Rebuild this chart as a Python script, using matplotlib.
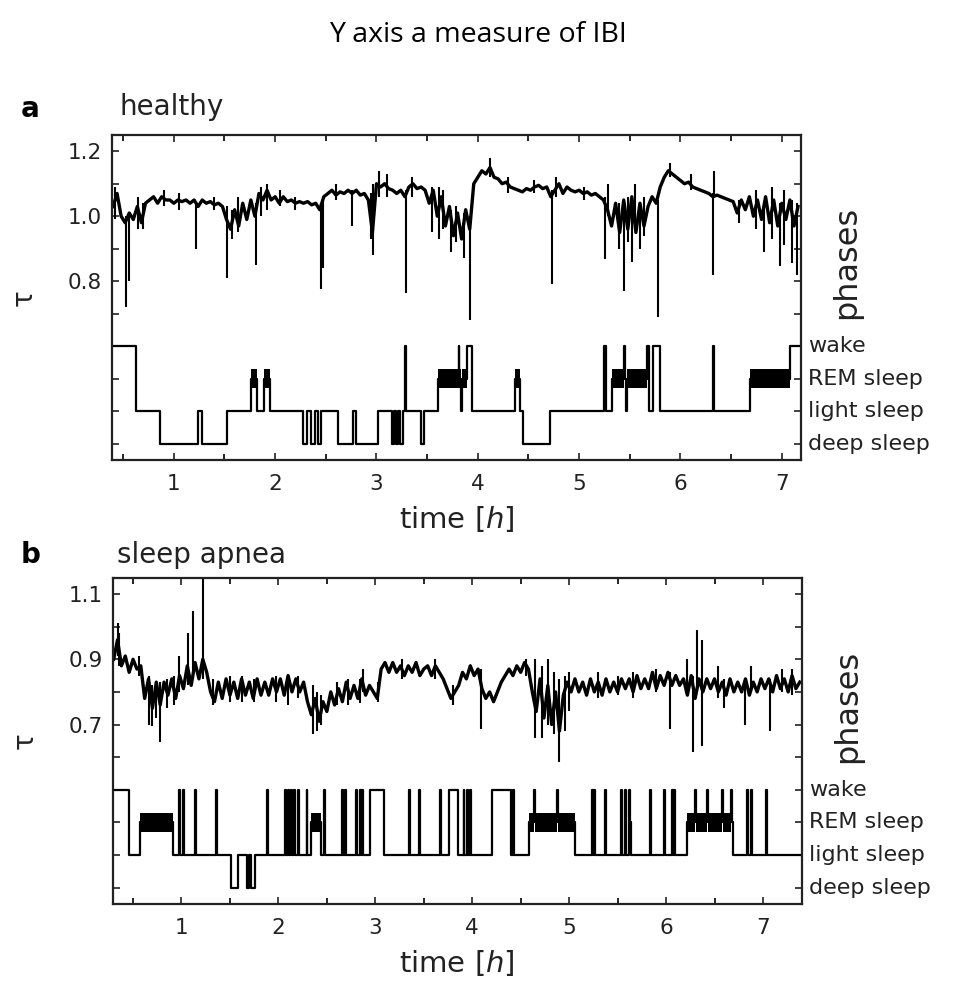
import numpy as np
import matplotlib
matplotlib.use("Agg")
import matplotlib.pyplot as plt

plt.rcParams['font.family'] = ['DejaVu Sans']
plt.rcParams['mathtext.fontset'] = 'dejavusans'

# ---- panel a: healthy ----
t0_a, dt_a = 0.40, 0.04
tau_a = [1.03, 1.07, 1.00, 0.98, 1.01, 0.99, 1.03, 0.98, 1.04, 1.05,
         1.06, 1.04, 1.06, 1.05, 1.05, 1.04, 1.05, 1.045, 1.05, 1.04,
         1.05, 1.03, 1.05, 1.04, 1.045, 1.035, 1.04, 1.03, 0.99, 0.96,
         1.02, 0.97, 1.04, 0.99, 1.05, 1.00, 1.07, 1.05, 1.08, 1.05,
         1.06, 1.04, 1.06, 1.045, 1.05, 1.04, 1.045, 1.04, 1.045, 1.035,
         1.04, 1.02, 1.06, 1.07, 1.08, 1.065, 1.075, 1.07, 1.08, 1.07,
         1.08, 1.065, 1.07, 1.05, 0.95, 1.10, 1.09, 1.10, 1.085, 1.08,
         1.07, 1.08, 1.06, 1.09, 1.10, 1.085, 1.09, 1.08, 1.04, 1.08,
         1.00, 1.06, 0.97, 1.03, 0.94, 1.01, 0.93, 1.02, 0.96, 1.10,
         1.12, 1.14, 1.13, 1.15, 1.12, 1.115, 1.10, 1.105, 1.09, 1.085,
         1.08, 1.075, 1.085, 1.08, 1.09, 1.095, 1.085, 1.09, 1.06, 1.08,
         1.10, 1.07, 1.09, 1.08, 1.075, 1.08, 1.07, 1.075, 1.065, 1.07,
         1.06, 1.05, 1.02, 0.97, 1.04, 0.95, 1.05, 0.96, 1.06, 0.95,
         1.04, 0.97, 1.03, 1.06, 1.04, 1.09, 1.12, 1.14, 1.13, 1.12,
         1.11, 1.10, 1.105, 1.09, 1.085, 1.08, 1.075, 1.07, 1.06, 1.065,
         1.06, 1.055, 1.05, 1.045, 1.01, 1.05, 1.02, 1.06, 1.00, 1.05,
         0.99, 1.06, 0.98, 1.05, 0.97, 1.04, 0.99, 1.05, 0.97, 1.03]

# short beats: time, low, high
spike_t_a = [0.42, 0.53, 0.56, 0.65, 0.70, 0.90, 1.05, 1.22, 1.40, 1.52,
             1.57, 1.63, 1.81, 1.86, 1.92, 2.05, 2.20, 2.45, 2.47, 2.60,
             2.76, 2.95, 2.97, 3.02, 3.10, 3.29, 3.35, 3.55, 3.62, 3.66,
             3.74, 3.78, 3.86, 3.92, 4.12, 4.30, 4.55, 4.73, 4.77, 5.05,
             5.26, 5.28, 5.39, 5.44, 5.48, 5.52, 5.55, 5.60, 5.64, 5.78,
             5.90, 6.10, 6.32, 6.33, 6.58, 6.75, 6.82, 6.90, 6.98, 7.02,
             7.10, 7.15]
spike_lo_a = [0.99, 0.72, 0.80, 0.96, 0.96, 1.03, 1.02, 0.90, 1.02, 0.81,
              0.93, 0.95, 0.85, 1.00, 1.02, 1.03, 1.02, 0.775, 0.84, 1.05,
              0.97, 0.93, 0.88, 1.06, 1.06, 0.765, 1.06, 0.95, 0.93, 0.96,
              0.89, 0.92, 0.87, 0.68, 1.12, 1.07, 1.07, 0.79, 1.06, 1.05,
              0.867, 1.00, 0.90, 0.77, 0.92, 0.86, 0.98, 0.90, 0.94, 0.69,
              1.12, 1.08, 0.82, 1.06, 0.98, 0.96, 0.89, 0.93, 0.846, 0.91,
              0.856, 0.82]
spike_hi_a = [1.09, 1.00, 1.00, 1.06, 1.04, 1.08, 1.07, 1.04, 1.06, 1.03,
              1.02, 1.06, 1.04, 1.09, 1.10, 1.08, 1.06, 1.04, 1.05, 1.10,
              1.08, 1.07, 1.10, 1.14, 1.13, 1.08, 1.12, 1.09, 1.09, 1.08,
              1.02, 1.03, 1.01, 1.00, 1.18, 1.12, 1.11, 1.08, 1.12, 1.09,
              1.06, 1.10, 1.04, 1.03, 1.06, 1.04, 1.10, 1.04, 1.06, 1.05,
              1.165, 1.13, 1.07, 1.14, 1.05, 1.08, 1.04, 1.09, 1.04, 1.08,
              1.05, 1.04]

# sleep stages: 0 deep, 1 light, 2 REM, 3 wake
stage_t_a = [0.39, 0.63, 0.86, 1.24, 1.28, 1.52, 1.765, 1.82, 1.89, 1.95,
             2.275, 2.31, 2.35, 2.39, 2.42, 2.45, 2.62, 2.77, 2.80, 3.01,
             3.15, 3.17, 3.19, 3.21, 3.23, 3.26, 3.285, 3.295, 3.44, 3.47,
             3.61, 3.81, 3.815, 3.83, 3.84, 3.89, 3.94, 4.37, 4.42, 4.45,
             4.71, 5.25, 5.265, 5.32, 5.44, 5.45, 5.46, 5.475, 5.67, 5.69,
             5.73, 5.80, 6.325, 6.335, 6.69, 7.08, 7.19]
stage_a = [3, 1, 0, 1, 0, 1, 2, 1, 2, 1,
           0, 1, 0, 1, 0, 1, 0, 1, 0, 1,
           0, 1, 0, 1, 0, 1, 3, 1, 0, 1,
           2, 3, 2, 1, 2, 3, 1, 2, 1, 0,
           1, 3, 1, 2, 3, 2, 1, 2, 3, 1,
           3, 1, 3, 1, 2, 3, 3]

# ---- panel b: sleep apnea ----
t0_b, dt_b = 0.30, 0.04
tau_b = [0.90, 0.96, 0.88, 0.91, 0.86, 0.90, 0.87, 0.88,
         0.78, 0.84, 0.75, 0.83, 0.76, 0.83, 0.79, 0.84, 0.78,
         0.85, 0.81, 0.88, 0.82, 0.89, 0.84, 0.90, 0.86,
         0.80, 0.77, 0.83, 0.78, 0.84, 0.79, 0.83, 0.78, 0.84, 0.79,
         0.83, 0.78, 0.84, 0.79, 0.83, 0.79, 0.84, 0.80, 0.84, 0.79,
         0.85, 0.80, 0.84, 0.80, 0.83,
         0.77, 0.73, 0.78, 0.71, 0.77, 0.74, 0.80, 0.76,
         0.81, 0.77, 0.83, 0.78, 0.82, 0.78, 0.84, 0.79, 0.82, 0.80, 0.78,
         0.87, 0.89, 0.86, 0.89, 0.86, 0.88, 0.85, 0.88, 0.86, 0.89,
         0.85, 0.87, 0.88, 0.85, 0.88, 0.86, 0.84,
         0.81, 0.78, 0.80, 0.82,
         0.86, 0.84, 0.88, 0.85, 0.87,
         0.81, 0.78, 0.80, 0.77, 0.80, 0.83,
         0.85, 0.87, 0.85, 0.88, 0.86, 0.89, 0.87,
         0.80, 0.74, 0.84, 0.72, 0.82, 0.70, 0.80, 0.68, 0.79,
         0.83, 0.80, 0.84, 0.80, 0.83, 0.79, 0.84, 0.80, 0.83, 0.79,
         0.84, 0.80, 0.83, 0.80, 0.84, 0.81, 0.84, 0.80, 0.85, 0.81,
         0.84, 0.81, 0.86, 0.81, 0.85, 0.82, 0.86, 0.82, 0.85, 0.82,
         0.84,
         0.79, 0.85, 0.78, 0.84, 0.80, 0.84,
         0.81, 0.84, 0.80, 0.83, 0.79, 0.84, 0.80, 0.83, 0.80, 0.84,
         0.79, 0.83, 0.80, 0.84, 0.81, 0.84, 0.80, 0.85, 0.81, 0.84,
         0.80, 0.85, 0.81, 0.83]

spike_t_b = [0.34, 0.36, 0.56, 0.66, 0.70, 0.74, 0.78, 0.85, 0.92, 0.97,
             1.07, 1.12, 1.22, 1.33, 1.50, 1.62, 1.75, 1.98, 2.10, 2.20,
             2.36, 2.40, 2.44, 2.60, 2.72, 2.84, 2.87, 3.03, 3.28, 3.62,
             3.80, 4.09, 4.55, 4.65, 4.72, 4.78, 4.84, 4.90, 4.96, 5.00,
             5.30, 5.50, 5.66, 5.90, 6.04, 6.22, 6.28, 6.32, 6.37, 6.54,
             6.60, 6.81, 6.88, 7.07, 7.20, 7.30]
spike_lo_b = [0.91, 0.88, 0.85, 0.70, 0.695, 0.72, 0.646, 0.75, 0.76, 0.80,
              0.82, 0.84, 0.84, 0.76, 0.77, 0.77, 0.77, 0.77, 0.76, 0.78,
              0.67, 0.68, 0.70, 0.76, 0.76, 0.765, 0.80, 0.77, 0.84, 0.84,
              0.76, 0.687, 0.85, 0.66, 0.66, 0.70, 0.67, 0.584, 0.68, 0.74,
              0.78, 0.79, 0.78, 0.80, 0.687, 0.80, 0.616, 0.80, 0.635, 0.78,
              0.75, 0.70, 0.80, 0.68, 0.80, 0.79]
spike_hi_b = [1.01, 0.98, 0.91, 0.85, 0.82, 0.80, 0.83, 0.84, 0.85, 0.91,
              0.98, 1.047, 1.15, 0.84, 0.85, 0.85, 0.84, 0.85, 0.85, 0.85,
              0.82, 0.80, 0.79, 0.83, 0.84, 0.84, 0.87, 0.83, 0.90, 0.90,
              0.82, 0.87, 0.90, 0.90, 0.88, 0.90, 0.86, 0.84, 0.85, 0.86,
              0.86, 0.85, 0.86, 0.87, 0.86, 0.90, 0.85, 0.99, 0.96, 0.88,
              0.84, 0.84, 0.88, 0.84, 0.87, 0.87]

stage_t_b = [0.29, 0.455, 0.57, 0.91, 0.975, 0.985, 1.015, 1.025, 1.14, 1.15,
             1.355, 1.365, 1.51, 1.58, 1.68, 1.70, 1.72, 1.76, 1.885, 1.895,
             2.07, 2.08, 2.10, 2.11, 2.13, 2.14, 2.16, 2.17, 2.20, 2.21,
             2.29, 2.30, 2.34, 2.44, 2.47, 2.48, 2.66, 2.67, 2.685, 2.695,
             2.80, 2.81, 2.84, 2.85, 2.865, 2.875, 2.94, 3.09, 3.35, 3.36,
             3.45, 3.46, 3.67, 3.68, 3.76, 3.85, 3.91, 3.92, 3.95, 3.96,
             3.98, 3.99, 4.20, 4.40, 4.42, 4.43, 4.59, 4.64, 4.65, 4.87,
             4.88, 5.06, 5.24, 5.25, 5.26, 5.27, 5.37, 5.38, 5.54, 5.55,
             5.58, 5.59, 5.62, 5.63, 5.64, 5.83, 5.84, 5.98, 5.99, 6.06,
             6.07, 6.08, 6.09, 6.22, 6.30, 6.31, 6.42, 6.43, 6.58, 6.59,
             6.67, 6.68, 6.69, 6.84, 6.85, 6.88, 6.89, 7.03, 7.04, 7.40]
stage_b = [3, 1, 2, 1, 3, 1, 3, 1, 3, 1,
           3, 1, 0, 1, 0, 1, 0, 1, 3, 1,
           3, 1, 3, 1, 3, 1, 3, 1, 3, 1,
           3, 1, 2, 1, 3, 1, 3, 1, 3, 1,
           3, 1, 3, 1, 3, 1, 3, 1, 3, 1,
           3, 1, 3, 1, 3, 1, 3, 1, 3, 1,
           3, 1, 3, 1, 3, 1, 2, 3, 2, 3,
           2, 1, 3, 1, 3, 1, 3, 1, 3, 1,
           3, 1, 3, 2, 1, 3, 1, 3, 1, 3,
           1, 3, 1, 2, 3, 2, 3, 2, 3, 2,
           3, 2, 1, 3, 1, 3, 1, 3, 1, 1]

stage_names = ["deep sleep", "light sleep", "REM sleep", "wake"]


def draw_panel(ax, t0, dt, tau, sp_t, sp_lo, sp_hi, st_t, st, base, xlim, ylim, labels):
    tau = np.array(tau)
    t = t0 + dt * np.arange(len(tau))
    ax.plot(t, tau, color='black', lw=2.4)
    ax.vlines(sp_t, sp_lo, sp_hi, color='black', lw=1.5)

    # hypnogram, stage code -> level below the trace
    st_t = np.array(st_t)
    lev = base + 0.1 * np.array(st)
    ax.step(st_t, lev, where='post', color='black', lw=1.6)
    rem = [i for i in range(len(st) - 1) if st[i] == 2]
    ax.bar(st_t[rem], 0.06, width=np.diff(st_t)[rem], bottom=lev[rem] - 0.03,
           align='edge', color='black', linewidth=0)

    ax.set_xlim(*xlim)
    ax.set_ylim(*ylim)
    ax.set_xticks(range(1, 8))
    ax.set_xticks(np.arange(0.5, 7.5, 0.5), minor=True)
    yt = np.round(np.arange(base, ylim[1], 0.1), 2)
    ax.set_yticks(yt)
    ax.set_yticklabels([f"{v:.1f}" if v in labels else "" for v in yt])
    ax.tick_params(direction='in', top=True, right=True, length=5, width=1.2,
                   labelsize=15.5, colors='#222222')
    ax.tick_params(axis='x', pad=10)
    ax.tick_params(axis='y', pad=7)
    ax.tick_params(axis='x', which='minor', direction='in', top=True, length=4, width=1.2)
    for s in ax.spines.values():
        s.set_linewidth(1.6)
        s.set_color('#222222')
    ax.set_xlabel('time [$\\mathit{h}$]', fontsize=21, labelpad=7, color='#222222')
    ax.set_ylabel('τ', fontsize=20, labelpad=22, color='#222222')
    for k, name in enumerate(stage_names):
        ax.text(1.01, base + 0.1 * k, name, transform=ax.get_yaxis_transform(),
                fontsize=16, va='center', ha='left', color='#222222')
    ax.text(1.066, 0.607, 'phases', transform=ax.transAxes, rotation=90,
            fontsize=23, va='center', ha='center', color='#222222')


fig = plt.figure(figsize=(9.55, 9.81), dpi=100)
fig.text(0.5, 0.964, 'Y axis a measure of IBI', fontsize=20.5, ha='center', va='center',
         family=['Open Sans', 'DejaVu Sans'])

ax_a = fig.add_axes([0.1173, 0.5311, 0.7215, 0.3313])
draw_panel(ax_a, t0_a, dt_a, tau_a, spike_t_a, spike_lo_a, spike_hi_a,
           stage_t_a, stage_a, 0.3, (0.39, 7.19), (0.25, 1.25), (0.8, 1.0, 1.2))
fig.text(0.022, 0.889, 'a', fontsize=20, weight='bold', va='center')
fig.text(0.125, 0.891, 'healthy', fontsize=20, va='center', color='#222222')

ax_b = fig.add_axes([0.118, 0.0785, 0.7215, 0.3326])
draw_panel(ax_b, t0_b, dt_b, tau_b, spike_t_b, spike_lo_b, spike_hi_b,
           stage_t_b, stage_b, 0.2, (0.29, 7.40), (0.15, 1.15), (0.7, 0.9, 1.1))
fig.text(0.022, 0.434, 'b', fontsize=20, weight='bold', va='center')
fig.text(0.122, 0.434, 'sleep apnea', fontsize=20, va='center', color='#222222')

fig.savefig('out.png', dpi=100)
